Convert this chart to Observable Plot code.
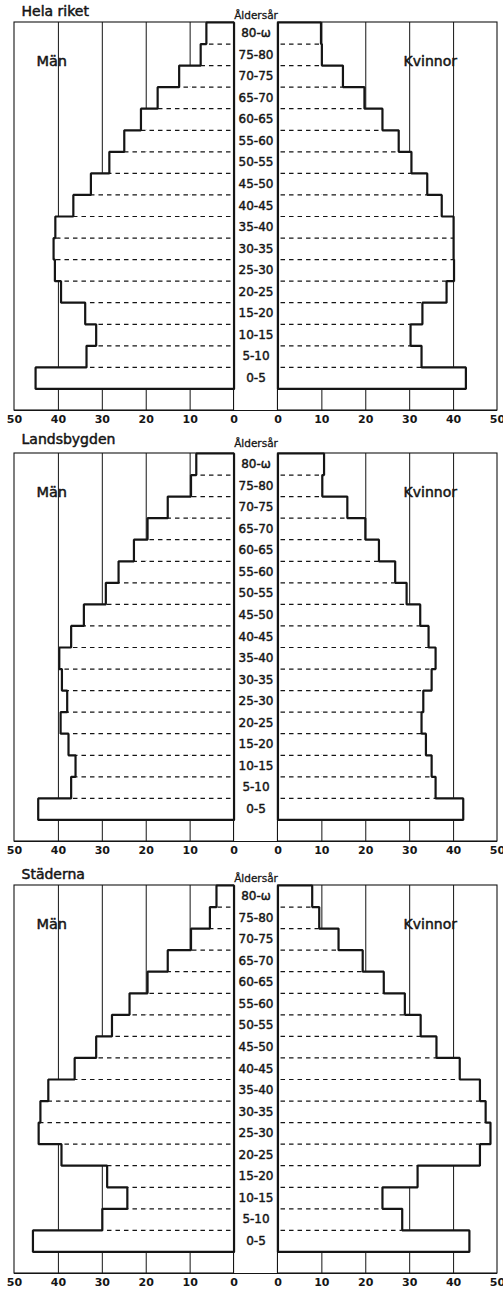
<!DOCTYPE html>
<html><head><meta charset="utf-8">
<script src="https://cdn.jsdelivr.net/npm/d3@7"></script>
<script src="https://cdn.jsdelivr.net/npm/@observablehq/plot@0.6"></script>
<style>
html,body{margin:0;padding:0;background:#fff;}
svg{display:block;}
</style>
</head><body><div id="chart"></div>
<script>
// Age bands, bottom (youngest) to top (oldest)
const ages = ["0-5","5-10","10-15","15-20","20-25","25-30","30-35","35-40","40-45","45-50","50-55","55-60","60-65","65-70","70-75","75-80","80-ω"];
const panelTitles = ["Hela riket", "Landsbygden", "Städerna"];
const ageAxisTitle = "Åldersår";
const leftLabel = "Män";
const rightLabel = "Kvinnor";

// Values per 1000, in the order of `ages`
const helaMan      = [45.2, 33.6, 31.4, 33.9, 39.4, 40.8, 41.1, 40.7, 36.6, 32.6, 28.4, 25.0, 21.2, 17.4, 12.5, 7.6, 6.3];
const helaKvinnor  = [42.8, 32.7, 30.2, 32.9, 38.4, 40.1, 40.0, 40.0, 37.3, 34.0, 30.4, 27.5, 23.8, 19.7, 14.8, 10.0, 9.8];
const landMan      = [44.6, 37.1, 36.1, 37.7, 39.5, 38.0, 39.2, 39.8, 37.1, 34.2, 29.2, 26.3, 22.8, 19.7, 15.1, 9.8, 8.6];
const landKvinnor  = [42.2, 35.9, 35.0, 33.7, 32.7, 33.1, 35.0, 35.9, 34.3, 32.4, 29.3, 26.7, 23.0, 19.9, 15.8, 10.1, 10.5];
const stadMan      = [45.8, 30.0, 24.3, 28.9, 39.3, 44.5, 44.1, 42.3, 36.3, 31.4, 27.8, 23.8, 19.7, 15.1, 9.8, 5.5, 4.0];
const stadKvinnor  = [43.6, 28.3, 23.8, 31.8, 46.0, 48.4, 47.3, 46.0, 41.4, 36.1, 32.5, 28.9, 24.1, 19.3, 13.8, 9.4, 7.8];

const tickLabels = [50, 40, 30, 20, 10, 0];
const gridValues = [10, 20, 30, 40];
const maxValue = 50;

const series = [
  [helaMan, helaKvinnor],
  [landMan, landKvinnor],
  [stadMan, stadKvinnor]
];

const gap = 5;            // half-width of the central label column, in value units
const n = ages.length;
const ink = "#151515";
const font = "DejaVu Sans";

const layout = [
  {height: 431, marginTop: 22, titleDy: -11, ageDy: -7},
  {height: 431, marginTop: 22, titleDy: -14, ageDy: -10},
  {height: 430, marginTop: 23, titleDy: -11, ageDy: -7}
];

function sidePos(sign, v) { return sign * (gap + v); }

function stairPoints(values, sign) {
  const pts = [{x: sidePos(sign, 0), y: 0}];
  values.forEach((v, i) => {
    pts.push({x: sidePos(sign, v), y: i});
    pts.push({x: sidePos(sign, v), y: i + 1});
  });
  pts.push({x: sidePos(sign, 0), y: n});
  pts.push({x: sidePos(sign, 0), y: 0});
  return pts;
}

function barRows(values, sign) {
  return values.map((v, i) => ({x1: sidePos(sign, 0), x2: sidePos(sign, v), y1: i, y2: i + 1}));
}

function dashRows(values, sign) {
  const rows = [];
  for (let i = 0; i < n - 1; i++) {
    rows.push({x1: sidePos(sign, 0.7), x2: sidePos(sign, Math.min(values[i], values[i + 1])), y: i + 1});
  }
  return rows;
}

const xTicks = tickLabels.map(t => -(gap + t)).concat(tickLabels.slice().reverse().map(t => gap + t));
const gridX = gridValues.flatMap(g => [-(gap + g), gap + g]);

const root = document.getElementById("chart");

series.forEach(([man, kvinnor], p) => {
  const L = layout[p];
  const chart = Plot.plot({
    width: 503,
    height: L.height,
    marginLeft: 14,
    marginRight: 6,
    marginTop: L.marginTop,
    marginBottom: L.height - L.marginTop - 388,
    x: {domain: [-(gap + maxValue), gap + maxValue], axis: null},
    y: {domain: [-1, n], axis: null},
    style: {fontFamily: font, color: ink, background: "#fff", overflow: "visible"},
    marks: [
      // vertical grid lines
      Plot.ruleX(gridX, {y1: -1, y2: n, stroke: ink, strokeWidth: 1}),
      // white bars hide the grid behind them
      Plot.rect(barRows(man, -1), {x1: "x1", x2: "x2", y1: "y1", y2: "y2", fill: "#fff"}),
      Plot.rect(barRows(kvinnor, 1), {x1: "x1", x2: "x2", y1: "y1", y2: "y2", fill: "#fff"}),
      // dashed band separators
      Plot.ruleY(dashRows(man, -1), {x1: "x1", x2: "x2", y: "y", stroke: ink, strokeWidth: 1.2, strokeDasharray: "4.5,4"}),
      Plot.ruleY(dashRows(kvinnor, 1), {x1: "x1", x2: "x2", y: "y", stroke: ink, strokeWidth: 1.2, strokeDasharray: "4.5,4"}),
      // frames
      Plot.rect([{x1: -(gap + maxValue), x2: -gap}, {x1: gap, x2: gap + maxValue}],
        {x1: "x1", x2: "x2", y1: -1, y2: n, fill: "none", stroke: ink, strokeWidth: 1.1}),
      Plot.ruleY([-1], {x1: -(gap + maxValue), x2: gap + maxValue, stroke: ink, strokeWidth: 1.2}),
      // stair outlines
      Plot.line(stairPoints(man, -1), {x: "x", y: "y", stroke: ink, strokeWidth: 2.2, strokeLinejoin: "miter"}),
      Plot.line(stairPoints(kvinnor, 1), {x: "x", y: "y", stroke: ink, strokeWidth: 2.2, strokeLinejoin: "miter"}),
      // age labels in the central column
      Plot.text(ages, {x: 0, y: (d, i) => i + 0.5, text: d => d, fontSize: 12, fill: ink, stroke: ink, strokeWidth: 0.45}),
      // x axis labels
      Plot.axisX(xTicks, {tickFormat: d => Math.abs(d) - gap, tickSize: 0, tickPadding: 5, fontSize: 11, fontWeight: "bold", fill: ink}),
      // titles and side labels
      Plot.text([panelTitles[p]], {frameAnchor: "top-left", dx: 7, dy: L.titleDy, lineAnchor: "middle", textAnchor: "start", fontSize: 14, fill: ink, stroke: ink, strokeWidth: 0.5}),
      Plot.text([ageAxisTitle], {x: 0, y: n, dy: L.ageDy, lineAnchor: "middle", fontSize: 10.5, fill: ink, stroke: ink, strokeWidth: 0.3}),
      Plot.text([leftLabel], {x: -(gap + 45), y: n, dy: 39, lineAnchor: "middle", textAnchor: "start", fontSize: 14.5, fill: ink, stroke: ink, strokeWidth: 0.5}),
      Plot.text([rightLabel], {x: gap + 28.6, y: n, dy: 39, lineAnchor: "middle", textAnchor: "start", fontSize: 14, fill: ink, stroke: ink, strokeWidth: 0.5})
    ]
  });
  root.appendChild(chart);
});
</script>
</body></html>
